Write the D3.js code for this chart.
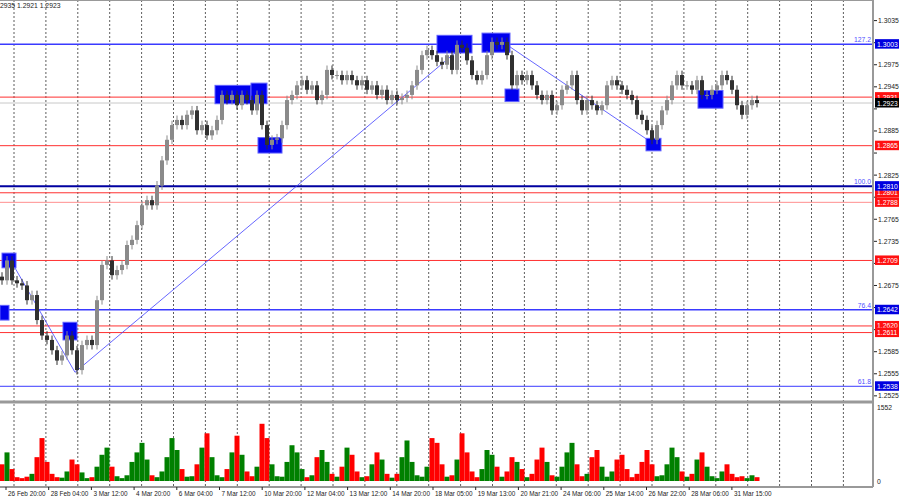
<!DOCTYPE html>
<html><head><meta charset="utf-8">
<script src="https://cdn.jsdelivr.net/npm/d3@7/dist/d3.min.js"></script>
<style>body{margin:0;background:#fff}svg{display:block;font-family:"Liberation Sans",Arial,sans-serif}</style>
</head><body><svg id="c" width="900" height="500"></svg>
<script>
const closes=[1.2682,1.2709,1.2682,1.2678,1.2675,1.2655,1.2662,1.2628,1.2607,1.2601,
1.2587,1.2573,1.2580,1.2607,1.2587,1.2560,1.2594,1.2601,1.2594,1.2655,
1.2703,1.2709,1.2689,1.2696,1.2703,1.2730,1.2737,1.2757,1.2784,1.2791,
1.2784,1.2811,1.2845,1.2873,1.2893,1.2900,1.2893,1.2907,1.2913,1.2886,
1.2893,1.2879,1.2886,1.2900,1.2934,1.2927,1.2934,1.2920,1.2934,1.2927,
1.2913,1.2934,1.2893,1.2866,1.2873,1.2875,1.2893,1.2927,1.2934,1.2947,
1.2954,1.2941,1.2947,1.2927,1.2934,1.2968,1.2961,1.2961,1.2954,1.2961,
1.2954,1.2947,1.2954,1.2941,1.2947,1.2934,1.2941,1.2927,1.2934,1.2927,
1.2930,1.2934,1.2947,1.2968,1.2988,1.2995,1.2988,1.2979,1.2975,1.2988,
1.2968,1.3002,1.2998,1.2981,1.2961,1.2954,1.2961,1.2988,1.3006,1.3002,
1.3006,1.2988,1.2947,1.2961,1.2954,1.2961,1.2947,1.2934,1.2927,1.2934,
1.2913,1.2920,1.2941,1.2947,1.2961,1.2927,1.2913,1.2927,1.2920,1.2913,
1.2920,1.2947,1.2954,1.2947,1.2941,1.2934,1.2927,1.2907,1.2900,1.2886,
1.2873,1.2893,1.2913,1.2927,1.2947,1.2961,1.2947,1.2947,1.2941,1.2954,
1.2934,1.2934,1.2941,1.2947,1.2961,1.2954,1.2941,1.2920,1.2907,1.2920,
1.2927,1.2923];
const volumes=[350,600,250,80,60,90,150,500,900,400,150,80,70,200,450,350,180,60,80,300,
550,700,300,100,60,120,400,600,800,450,120,80,200,500,900,650,250,90,100,350,
700,1000,500,120,80,250,600,950,550,200,100,300,1200,900,350,100,90,400,750,600,
250,80,120,500,650,400,150,90,300,700,550,200,80,100,350,600,450,150,70,150,
500,850,400,120,90,300,900,800,350,90,120,450,1000,600,200,80,250,650,550,300,
90,200,500,400,250,80,150,450,700,400,120,90,300,600,800,350,100,150,500,650,
300,90,200,450,550,250,80,150,400,650,350,100,120,350,700,500,200,90,150,450,
600,300,100,60,200,350,150,80,100,60,120,80];
const timeLabels=["26 Feb 20:00","28 Feb 04:00","3 Mar 12:00","4 Mar 20:00","6 Mar 04:00","7 Mar 12:00","10 Mar 20:00","12 Mar 04:00","13 Mar 12:00","14 Mar 20:00","18 Mar 05:00","19 Mar 13:00","20 Mar 21:00","24 Mar 06:00","25 Mar 14:00","26 Mar 22:00","28 Mar 06:00","31 Mar 15:00"];
const priceTicks=[1.3035,1.3005,1.2975,1.2945,1.2915,1.2885,1.2855,1.2825,1.2795,1.2765,1.2735,1.2705,1.2675,1.2645,1.2615,1.2585,1.2555,1.2525];
const blueLevels=[[1.3003,"127.2",1.5],[1.2810,"100.0",2],[1.2642,"76.4",1.5],[1.2538,"61.8",1]];
const redLevels=[[1.2931,"#ff3030"],[1.2865,"#ff3030"],[1.2801,"#ff3030"],[1.2788,"#ff9090"],[1.2709,"#ff3030"],[1.2620,"#ff3030"],[1.2611,"#ff3030"]];
const lastPrice=1.2923;
const header="2935 1.2921 1.2923";
const boxes=[[43,49.4,1.2947,1.2922],[50.2,52.6,1.2950,1.2922],[51.6,55.6,1.2876,1.2855],[87.4,93.6,1.3015,1.2991],[96.4,101.2,1.3018,1.2992],[101,103,1.2942,1.2925],[129.2,131.4,1.2875,1.2858],[139.6,143.8,1.2940,1.2916],[0,1,1.2648,1.2628],[0.4,2.4,1.2719,1.2699],[12.6,14.6,1.2625,1.2601]];
const trendLines=[[1.4,1.2713,14.6,1.2557],[14.6,1.2557,92,1.2999],[101,1.3002,130.2,1.2868]];

const svg=d3.select("#c");
const W=872, vBot=487;
const x=d3.scaleLinear().domain([0,1]).range([2,7]);
const y=d3.scaleLinear().domain([1.3063,1.2518]).range([0,401]);
const yv=d3.scaleLinear().domain([0,1552]).range([481,407]);
const FS=6.8;
const grid=svg.append("g");
for(let gx=14;gx<W;gx+=31.9){grid.append("line").attr("x1",gx).attr("x2",gx).attr("y1",0).attr("y2",vBot).attr("stroke","#333").attr("stroke-dasharray","2,2").attr("stroke-width",0.8);}
const lv=svg.append("g");
redLevels.forEach(([p,c])=>{lv.append("line").attr("x1",0).attr("x2",W).attr("y1",y(p)).attr("y2",y(p)).attr("stroke",c).attr("stroke-width",1);});
lv.append("line").attr("x1",0).attr("x2",W).attr("y1",y(lastPrice)).attr("y2",y(lastPrice)).attr("stroke","#c8c8c8");
blueLevels.forEach(([p,t,w],i)=>{lv.append("line").attr("x1",0).attr("x2",W).attr("y1",y(p)).attr("y2",y(p)).attr("stroke",i==1?"#0000a0":"#3a3aff").attr("stroke-width",w);
 lv.append("text").attr("x",W-1).attr("y",y(p)-2).attr("text-anchor","end").attr("font-size",FS).attr("fill","#5050ff").text(t);});
trendLines.forEach(([a,pa,b,pb])=>svg.append("line").attr("x1",x(a)).attr("y1",y(pa)).attr("x2",x(b)).attr("y2",y(pb)).attr("stroke","#4040ff").attr("stroke-width",0.8));
boxes.forEach(([a,b,h,l])=>svg.append("rect").attr("x",x(a)-2).attr("width",x(b)-x(a)+4).attr("y",y(h)).attr("height",y(l)-y(h)).attr("fill","#0000ee").attr("stroke","#6060ff"));
const cg=svg.append("g");
closes.forEach((c,i)=>{const o=i?closes[i-1]:c+0.0005;const hi=Math.max(o,c)+0.0006,lo=Math.min(o,c)-0.0006;
 const col=c>=o?"#8a8a8a":"#303030";
 cg.append("line").attr("x1",x(i)).attr("x2",x(i)).attr("y1",y(hi)).attr("y2",y(lo)).attr("stroke",col);
 cg.append("rect").attr("x",x(i)-2).attr("width",4).attr("y",y(Math.max(o,c))).attr("height",Math.max(1,Math.abs(y(o)-y(c)))).attr("fill",col);
 svg.append("rect").attr("x",x(i)-2.5).attr("width",5).attr("y",yv(volumes[i])).attr("height",yv(0)-yv(volumes[i])).attr("fill",c>=o?"#008000":"#ff0000");
});
svg.append("line").attr("x1",0).attr("x2",W+1).attr("y1",402).attr("y2",402).attr("stroke","#999").attr("stroke-width",3);
svg.append("line").attr("x1",0).attr("x2",W+1).attr("y1",vBot).attr("y2",vBot).attr("stroke","#999").attr("stroke-width",2);
svg.append("line").attr("x1",0).attr("x2",W+1).attr("y1",0.5).attr("y2",0.5).attr("stroke","#999");
svg.append("line").attr("x1",W+1).attr("x2",W+1).attr("y1",0).attr("y2",vBot).attr("stroke","#999").attr("stroke-width",2);
const ax=svg.append("g").attr("font-size",FS).attr("fill","#222");
const levelPrices=redLevels.map(d=>d[0]).concat(blueLevels.map(d=>d[0]),[lastPrice]);
priceTicks.forEach(p=>{ax.append("line").attr("x1",W+2).attr("x2",W+5).attr("y1",y(p)).attr("y2",y(p)).attr("stroke","#222");
 if(levelPrices.some(q=>Math.abs(y(q)-y(p))<8))return;
 ax.append("text").attr("x",W+6).attr("y",y(p)+2.5).text(p.toFixed(4));});
const lab=(p,bg)=>{ax.append("rect").attr("x",W+3).attr("y",y(p)-5).attr("width",24).attr("height",9.5).attr("fill",bg);
 ax.append("text").attr("x",W+5).attr("y",y(p)+2.5).attr("fill","#fff").text(p.toFixed(4));};
redLevels.forEach(([p])=>lab(p,"#ff1010"));
blueLevels.forEach(([p])=>lab(p,"#0000e0"));
lab(lastPrice,"#000");
ax.append("text").attr("x",W+5).attr("y",410).text("1552");
ax.append("text").attr("x",W+5).attr("y",484).text("0");
timeLabels.forEach((t,k)=>{const tx=6+42.7*k;svg.append("line").attr("x1",tx).attr("x2",tx).attr("y1",vBot).attr("y2",vBot+3).attr("stroke","#222");
 svg.append("text").attr("x",tx+2).attr("y",496).attr("font-size",6.4).attr("fill","#222").text(t);});
svg.append("text").attr("x",0).attr("y",8).attr("font-size",FS).attr("fill","#222").text(header);
</script></body></html>
